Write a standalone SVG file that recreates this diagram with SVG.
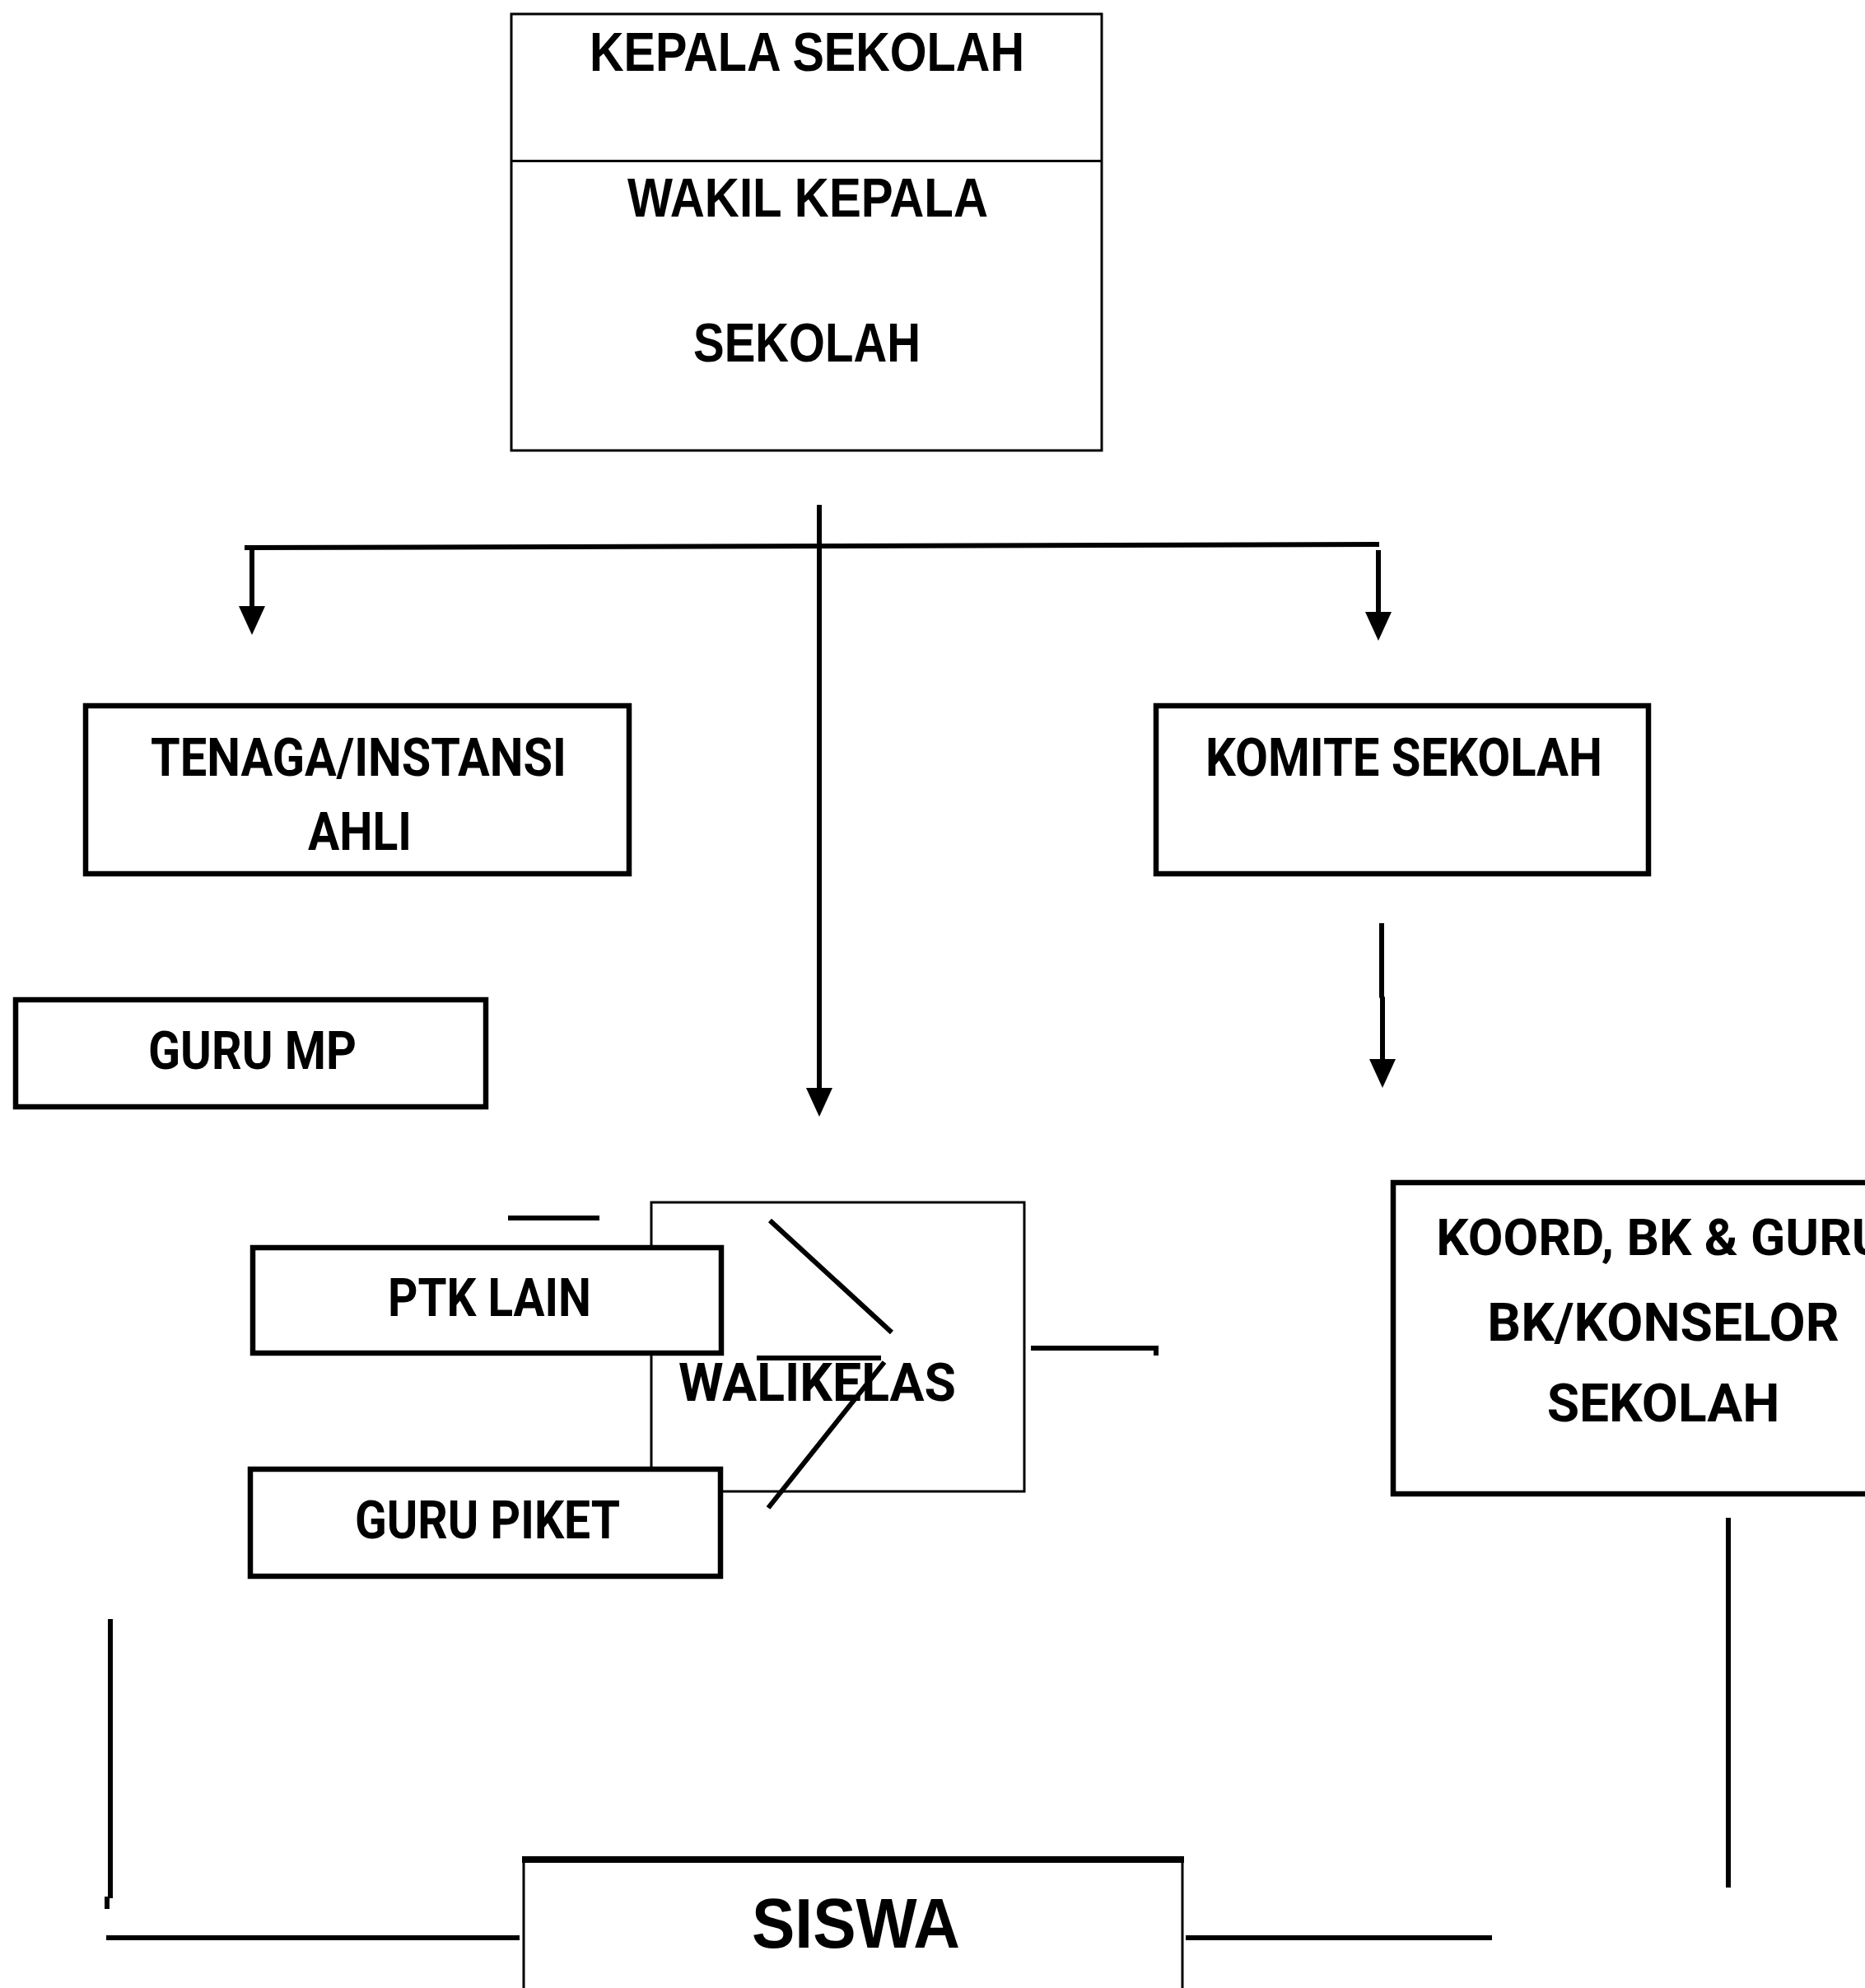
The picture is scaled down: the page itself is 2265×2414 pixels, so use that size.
<svg xmlns="http://www.w3.org/2000/svg" width="2265" height="2414" viewBox="0 0 2265 2414">
<style>
.thin{fill:#fff;stroke:#000;stroke-width:3}
.thick{fill:#fff;stroke:#000;stroke-width:6.5}
.ln{fill:none;stroke:#000;stroke-width:6}
.t{font-family:Roboto,"Liberation Sans",sans-serif;font-weight:bold;fill:#000}
.a{font-family:"Liberation Sans",Arial,sans-serif;font-weight:bold;fill:#000}
</style>
<defs>
<marker id="ah" markerUnits="userSpaceOnUse" markerWidth="36" markerHeight="34" refX="14" refY="17" orient="auto" viewBox="0 0 36 34">
<path d="M0,1 L35,17 L0,33 z" fill="#000"/>
</marker>
</defs>
<rect width="2265" height="2414" fill="#fff"/>
<g id="connectors">
<line class="ln" x1="995" y1="613" x2="995" y2="1335" marker-end="url(#ah)"/>
<polyline class="ln" points="297,665 1675,661"/>
<line class="ln" x1="306" y1="665" x2="306" y2="750" marker-end="url(#ah)"/>
<line class="ln" x1="1674" y1="668" x2="1674" y2="757" marker-end="url(#ah)"/>
<polyline class="ln" points="1678,1121 1678,1210 1679,1212 1679,1300" marker-end="url(#ah)"/>
<polyline class="ln" points="1252,1637 1404,1637 1404,1646"/>
<line class="ln" x1="2099" y1="1843" x2="2099" y2="2292"/>
<line class="ln" x1="134" y1="1966" x2="134" y2="2305"/>
<line class="ln" x1="130" y1="2303" x2="130" y2="2318"/>
<line class="ln" x1="129" y1="2353" x2="631" y2="2353"/>
<line class="ln" x1="1440" y1="2353" x2="1812" y2="2353"/>
</g>
<g id="kepala-sekolah">
<rect class="thin" x="621" y="17" width="717" height="530"/>
<line x1="621" y1="195.5" x2="1338" y2="195.5" stroke="#000" stroke-width="3"/>
<text class="a" x="716" y="86" font-size="66" textLength="528" lengthAdjust="spacingAndGlyphs">KEPALA SEKOLAH</text>
<text class="a" x="762" y="263" font-size="66" textLength="438" lengthAdjust="spacingAndGlyphs">WAKIL KEPALA</text>
<text class="a" x="842" y="439" font-size="66" textLength="276" lengthAdjust="spacingAndGlyphs">SEKOLAH</text>
</g>
<g id="tenaga-ahli">
<rect class="thick" x="104" y="857" width="660" height="204"/>
<text class="t" x="183" y="942" font-size="64" textLength="505" lengthAdjust="spacingAndGlyphs">TENAGA/INSTANSI</text>
<text class="t" x="374" y="1032" font-size="64" textLength="126" lengthAdjust="spacingAndGlyphs">AHLI</text>
</g>
<g id="komite-sekolah">
<rect class="thick" x="1404" y="857" width="598" height="204"/>
<text class="t" x="1464" y="942" font-size="64" textLength="482" lengthAdjust="spacingAndGlyphs">KOMITE SEKOLAH</text>
</g>
<g id="guru-mp">
<rect class="thick" x="19" y="1214" width="571" height="130"/>
<text class="t" x="180" y="1298" font-size="64" textLength="253" lengthAdjust="spacingAndGlyphs">GURU MP</text>
</g>
<g id="walikelas">
<rect class="thin" x="791" y="1460" width="453" height="351"/>
<text class="t" x="824" y="1701" font-size="64" textLength="337" lengthAdjust="spacingAndGlyphs">WALIKELAS</text>
<line class="ln" x1="617" y1="1479" x2="728" y2="1479"/>
<line class="ln" x1="935" y1="1482" x2="1083" y2="1618"/>
<line class="ln" x1="919" y1="1649" x2="1070" y2="1649"/>
<line class="ln" x1="1074" y1="1654" x2="933" y2="1831"/>
</g>
<g id="ptk-lain">
<rect class="thick" x="307" y="1515" width="569" height="128"/>
<text class="t" x="471" y="1598" font-size="64" textLength="247" lengthAdjust="spacingAndGlyphs">PTK LAIN</text>
</g>
<g id="guru-piket">
<rect class="thick" x="304" y="1784" width="571" height="130"/>
<text class="t" x="431" y="1868" font-size="64" textLength="322" lengthAdjust="spacingAndGlyphs">GURU PIKET</text>
</g>
<g id="koord-bk">
<rect class="thick" x="1692" y="1436" width="600" height="378"/>
<text class="t" x="2017" y="1524" font-size="62" text-anchor="middle">KOORD, BK &amp; GURU</text>
<text class="t" x="2020" y="1628" font-size="64" text-anchor="middle">BK/KONSELOR</text>
<text class="t" x="2020" y="1726" font-size="64" text-anchor="middle">SEKOLAH</text>
</g>
<g id="siswa">
<rect class="thin" x="636" y="2258" width="800" height="200"/>
<line x1="634" y1="2258" x2="1438" y2="2258" stroke="#000" stroke-width="8"/>
<text class="a" x="913" y="2365" font-size="86" textLength="253" lengthAdjust="spacingAndGlyphs">SISWA</text>
</g>
</svg>
